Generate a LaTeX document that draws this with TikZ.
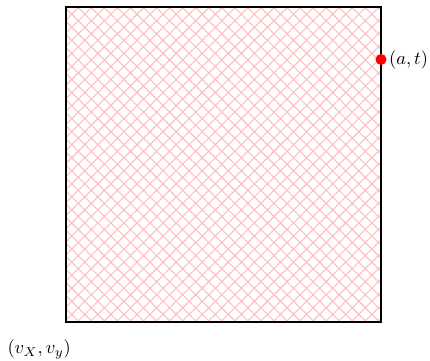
\documentclass[tikz,border=0pt]{standalone}
\usetikzlibrary{positioning}
\usetikzlibrary{patterns.meta}
\usepackage{xcolor}

\begin{document}
\begin{tikzpicture}
\useasboundingbox (-1.257,-0.724) rectangle (6.933,6.133);

\coordinate (vxy) at (0,0);
\coordinate (tr) at (6,6);
\fill[pattern={Hatch[angle=45,distance=5pt,line width=0.6pt]},pattern color=red!25] (vxy) rectangle (tr);
\draw[thick] (vxy) rectangle (tr);

\node[anchor=north east,inner sep=0pt] (vlabel) at (0.1,-0.33) {$(v_X,v_y)$};

\fill[red] (6,5) circle (3pt) coordinate (at);
\node[anchor=west,inner sep=1pt] (atlabel) at ([xshift=3.2pt]at) {$(a,t)$};

\end{tikzpicture}
\end{document}
